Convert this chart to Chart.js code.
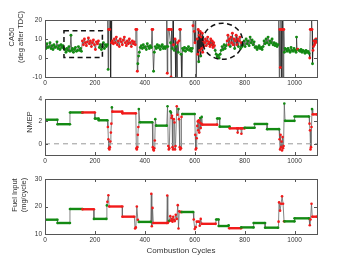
<!DOCTYPE html>
<html>
<head>
<meta charset="utf-8">
<script src="https://cdn.jsdelivr.net/npm/chart.js@4.4.0/dist/chart.umd.min.js"></script>
<style>
  body { margin: 0; background: #fff; width: 350px; height: 263px; position: relative; overflow: hidden; }
  canvas { position: absolute; left: 0; }
</style>
</head>
<body>
<canvas id="chartCA" width="350" height="90" style="top:0"></canvas>
<canvas id="chartNmep" width="350" height="85" style="top:85px"></canvas>
<canvas id="chartFuel" width="350" height="98" style="top:165px"></canvas>
<script>
// tick labels
const xTicks = [0, 200, 400, 600, 800, 1000];
const xMax = 1090;
const caTicks = [-10, 0, 10, 20];
const nmepTicks = [0, 2, 4];
const fuelTicks = [10, 20, 30];

// [cycle, value, state] where state 'g' = green, 'r' = red
const caPoints = [
  [0,6.5,'g'],[4,5,'g'],[8,7.5,'g'],[12,5.5,'g'],[16,6,'g'],[20,8,'g'],[24,5,'g'],[28,6.5,'g'],[32,4.5,'g'],[36,7,'g'],
  [40,5.5,'g'],[44,6,'g'],[48,8.5,'g'],[52,5,'g'],[56,6.5,'g'],[60,4.5,'g'],[64,7,'g'],[68,5.5,'g'],[72,6.5,'g'],[76,5,'g'],
  [80,4.5,'g'],[84,3,'g'],[88,5,'g'],[92,4,'g'],[96,6,'g'],[100,3.5,'g'],[104,12,'g'],[107,4,'g'],[110,5,'g'],[114,3,'g'],
  [118,4.5,'g'],[122,5.5,'g'],[126,3.5,'g'],[130,4,'g'],[134,6,'g'],[138,4,'g'],[142,5,'g'],[146,3.5,'g'],
  [150,9,'r'],[154,7,'r'],[158,10,'r'],[162,8,'r'],[166,6.5,'r'],[170,8.5,'r'],[174,10.5,'r'],[178,7.5,'r'],[182,9,'r'],
  [186,6,'r'],[190,8,'r'],[194,9.5,'r'],[198,7,'r'],[202,4.5,'r'],[206,8.5,'r'],[210,7.5,'r'],[214,9,'r'],
  [218,5.5,'g'],[222,7,'g'],[226,4.5,'g'],[230,6,'g'],[234,8,'g'],[238,5,'g'],[242,7,'g'],[246,6,'g'],
  [250,7,'g'],[252,25,'g'],[253,-6,'g'],[255,15,'r'],[259,15,'r'],[261,26,'r'],[263,-14,'r'],[265,24,'r'],[267,8,'r'],
  [270,9,'r'],[274,7.5,'r'],[278,10,'r'],[282,8,'r'],[286,11,'r'],[290,7,'r'],[294,9,'r'],[298,6,'r'],[302,10,'r'],
  [306,8.5,'r'],[310,7,'r'],[314,9.5,'r'],[318,11,'r'],[322,8,'r'],[326,6.5,'r'],[330,9,'r'],[334,7.5,'r'],[338,10,'r'],
  [342,8,'r'],[346,6,'r'],[350,9,'r'],[354,7.5,'r'],[358,8.5,'r'],[362,7,'r'],
  [364,15,'r'],[368,15,'r'],[370,-7,'r'],[372,-3,'g'],[375,1,'g'],[378,3,'g'],[382,5.5,'g'],
  [386,6.5,'g'],[390,5,'g'],[394,7,'g'],[398,5.5,'g'],[402,6,'g'],[406,4.5,'g'],[410,7.5,'g'],[414,6,'g'],[418,5,'g'],
  [422,6.5,'g'],[426,5.5,'g'],[429,15,'r'],[432,15,'r'],[435,-7,'g'],[438,3,'g'],
  [442,6,'g'],[446,5,'g'],[450,7,'g'],[454,5.5,'g'],[458,6.5,'g'],[462,4.5,'g'],[466,6,'g'],[470,7,'g'],[474,5,'g'],
  [478,6,'g'],[482,5,'g'],
  [486,6,'g'],[488,25,'g'],[490,-8,'r'],[492,6,'g'],[494,15,'r'],[497,15,'r'],[500,15,'r'],[503,8,'g'],[505,-10,'r'],
  [507,15,'r'],[510,5,'g'],[513,25,'g'],[515,7,'r'],[518,4,'g'],[521,10,'r'],[524,-12,'r'],[526,6,'g'],[529,-12,'g'],
  [531,8,'r'],[534,3,'g'],[537,9,'r'],[540,15,'r'],[543,15,'r'],[545,2,'g'],[547,-12,'r'],[549,-12,'r'],[551,5,'g'],
  [555,4,'g'],[559,5.5,'g'],[563,3.5,'g'],[567,5,'g'],[571,4.5,'g'],[575,6,'g'],[579,4,'g'],[583,5,'g'],[587,3.5,'g'],[590,5,'g'],
  [593,17,'r'],[596,25,'r'],[598,14,'r'],[601,8,'r'],[604,25,'g'],[606,-12,'g'],[608,-12,'g'],[610,10,'r'],[612,2,'r'],
  [614,15,'r'],[616,-2,'g'],[618,12,'r'],[620,4,'r'],[622,14,'r'],[624,1,'g'],[626,11,'r'],[628,5,'r'],[630,13,'r'],
  [632,3,'r'],[634,9,'r'],[636,6,'r'],
  [640,8,'r'],[643,10,'r'],[646,6.5,'r'],[649,9,'r'],[652,11,'r'],[655,7.5,'r'],[658,8.5,'r'],[661,6,'r'],[664,10,'r'],
  [667,7,'r'],[670,9,'r'],[673,5.5,'r'],[676,8,'r'],[679,6.5,'r'],
  [682,4,'g'],[686,2,'g'],[690,0.5,'g'],[694,1.5,'g'],[698,0,'g'],[702,2,'g'],[706,4,'g'],[710,6,'g'],[714,4.5,'g'],
  [718,7,'g'],[722,5,'g'],[726,6.5,'g'],
  [730,9,'r'],[733,12,'r'],[736,7,'r'],[739,10,'r'],[742,6,'g'],[745,11,'r'],[748,8,'r'],[751,13,'r'],[754,7,'r'],
  [757,10,'r'],[760,5,'g'],[763,9,'r'],[766,12,'r'],[769,7,'r'],[772,10,'r'],[775,6,'g'],[778,9,'r'],[781,11,'r'],
  [784,5,'g'],[787,8,'r'],[790,6,'g'],
  [794,7,'g'],[798,9,'g'],[802,6,'g'],[806,10,'g'],[810,7.5,'g'],[814,9,'g'],[818,6.5,'g'],[822,11,'g'],[826,8,'g'],
  [830,9.5,'g'],[834,7,'g'],[838,8.5,'g'],[842,5.5,'g'],[846,6,'g'],[850,4.5,'g'],[854,5.5,'g'],[858,6.5,'g'],[862,5,'g'],
  [866,5.5,'g'],[870,4.5,'g'],[874,6,'g'],[878,9,'g'],[882,7.5,'g'],[886,10,'g'],[890,8,'g'],[894,11,'g'],[898,7,'g'],
  [902,9,'g'],[906,8,'g'],[910,10,'g'],[914,7,'g'],[918,8,'g'],[922,6.5,'g'],[926,7.5,'g'],[930,6,'g'],[934,7,'g'],
  [937,25,'g'],[939,-12,'g'],[941,15,'r'],[943,-5,'r'],[945,25,'g'],[947,15,'r'],[949,-12,'g'],[951,25,'r'],[953,15,'r'],
  [955,-12,'r'],[957,15,'r'],[959,3,'g'],[962,5,'g'],
  [966,4.5,'g'],[970,3.5,'g'],[974,5,'g'],[978,4,'g'],[982,3,'g'],[986,5.5,'g'],[990,4,'g'],[994,3.5,'g'],[998,5,'g'],
  [1002,4,'g'],[1006,3,'g'],[1008,11,'g'],[1010,4.5,'g'],[1013,4.6,'r'],[1018,4,'g'],[1022,3.5,'g'],[1026,4.5,'g'],
  [1030,3,'g'],[1034,4,'g'],[1038,3.5,'g'],[1042,2.5,'g'],[1046,4,'g'],[1050,3,'g'],[1054,3.5,'g'],[1058,2.5,'g'],
  [1061,0,'r'],[1063,15,'r'],[1066,15,'r'],[1068,25,'g'],[1070,15,'r'],[1072,-3,'g'],[1074,4,'r'],
  [1076,6,'r'],[1078,9,'r'],[1080,7,'r'],[1082,9.5,'r'],[1084,8,'r'],[1086,10,'r'],[1088,8.5,'r'],[1090,9,'r']
];

const nmepPoints = [
  [0,2.15,'g'],[50,2.15,'g'],[50,1.75,'g'],[100,1.75,'g'],[100,2.8,'g'],[150,2.8,'g'],[150,2.8,'r'],[200,2.8,'r'],
  [200,2.25,'g'],[215,2.25,'g'],[215,2.1,'g'],[250,2.1,'g'],
  [252,1.5,'r'],[254,0.4,'r'],[256,-0.4,'r'],[258,-0.5,'r'],[260,-0.3,'r'],[262,0.2,'r'],[264,1.0,'r'],[266,1.8,'r'],
  [268,3.25,'g'],[270,2.87,'r'],[310,2.87,'r'],[310,2.72,'r'],[364,2.72,'r'],
  [366,-0.4,'r'],[368,-0.5,'r'],[370,-0.3,'r'],[372,0.8,'r'],[374,1.5,'r'],[376,3.1,'g'],[380,1.92,'g'],[430,1.92,'g'],
  [432,-0.3,'r'],[434,-0.5,'r'],[436,-0.6,'r'],[438,-0.4,'r'],[440,0.3,'r'],[442,2.2,'g'],[445,1.62,'g'],[488,1.62,'g'],
  [491,3.35,'g'],[494,-0.2,'r'],[496,-0.5,'r'],[498,-0.4,'r'],[502,2.9,'g'],[505,2.8,'g'],[507,2.3,'r'],[509,2.5,'r'],
  [511,-0.3,'r'],[513,-0.5,'r'],[516,2.2,'r'],[519,1.9,'r'],[521,-0.5,'r'],[523,-0.2,'r'],[528,3.35,'r'],[531,2.6,'r'],
  [535,3.1,'g'],[537,2.2,'r'],[540,-0.3,'r'],[542,-0.5,'r'],[545,-0.4,'r'],[547,2.4,'r'],[550,2.66,'g'],[600,2.66,'g'],
  [602,0.8,'r'],[604,-0.5,'r'],[606,-0.4,'r'],[608,0.5,'r'],[610,1.6,'r'],[612,2.0,'r'],[614,1.2,'r'],[616,2.1,'r'],
  [618,1.0,'r'],[620,1.9,'r'],[622,2.3,'g'],[624,1.4,'r'],[626,1.8,'r'],[628,2.4,'g'],[630,1.71,'r'],[690,1.71,'r'],
  [690,2.26,'g'],[700,2.26,'g'],[700,1.53,'g'],[740,1.53,'g'],[740,1.38,'r'],[770,1.38,'r'],[772,1.0,'r'],[774,1.38,'r'],
  [785,1.38,'r'],[787,0.9,'r'],[789,1.38,'r'],[800,1.38,'r'],[800,1.43,'g'],[840,1.43,'g'],[840,1.77,'g'],[890,1.77,'g'],
  [890,1.31,'g'],[938,1.31,'g'],
  [940,0.4,'r'],[942,-0.5,'r'],[944,0.8,'r'],[946,-0.3,'r'],[948,0.2,'r'],[950,-0.6,'r'],[952,0.6,'r'],[954,-0.4,'r'],
  [956,-0.2,'r'],[959,3.6,'g'],[962,2.05,'g'],[1000,2.05,'g'],[1000,2.44,'g'],[1058,2.44,'g'],
  [1060,1.8,'r'],[1062,1.2,'r'],[1064,-0.5,'r'],[1066,-0.3,'r'],[1068,1.5,'r'],[1070,3.1,'g'],[1073,2.63,'r'],[1090,2.63,'r']
];

const fuelPoints = [
  [0,15.2,'g'],[50,15.2,'g'],[50,14.0,'g'],[100,14.0,'g'],[100,19.1,'g'],[150,19.1,'g'],[150,19.0,'r'],[196,19.0,'r'],
  [196,15.5,'g'],[246,15.5,'g'],[248,20.4,'g'],[250,21.7,'r'],[254,24.1,'r'],[257,20.0,'r'],[310,20.0,'r'],
  [310,16.3,'r'],[358,16.3,'r'],[361,12.0,'r'],[364,12.4,'r'],[368,20.0,'r'],[372,15.2,'r'],[376,14.4,'g'],[424,14.4,'g'],
  [426,24.6,'r'],[428,12.8,'r'],[431,19.5,'r'],[434,14.0,'r'],[488,14.0,'r'],[490,24.0,'r'],[492,14.0,'r'],
  [495,14.5,'r'],[498,14.8,'g'],[502,16.5,'r'],[505,14.8,'r'],[508,15.5,'r'],[511,14.5,'r'],[514,16.3,'r'],[517,15.2,'r'],
  [520,14.7,'r'],[524,17.0,'r'],[528,15.5,'r'],[532,20.5,'r'],[535,12.0,'r'],[538,18.3,'r'],[542,18.0,'r'],[548,18.0,'r'],
  [548,18.0,'g'],[594,18.0,'g'],[596,15.3,'r'],[600,11.8,'r'],[604,12.5,'r'],[608,14.5,'r'],[618,14.5,'r'],[620,13.0,'r'],
  [624,15.5,'r'],[628,13.7,'r'],[684,13.7,'r'],[686,15.3,'g'],[696,15.3,'g'],[696,12.9,'g'],[734,12.9,'g'],[736,13.2,'g'],
  [738,12.1,'r'],[786,12.1,'r'],[786,12.4,'g'],[836,12.4,'g'],[836,14.0,'g'],[882,14.0,'g'],[882,12.3,'g'],[934,12.3,'g'],
  [936,14.5,'r'],[938,21.5,'r'],[942,18.5,'r'],[946,21.0,'r'],[950,23.7,'r'],[954,21.0,'r'],[958,14.6,'r'],[960,14.6,'g'],
  [1000,14.6,'g'],[1000,15.7,'g'],[1058,15.7,'g'],[1061,13.2,'r'],[1064,15.3,'r'],[1068,21.0,'r'],[1071,16.3,'r'],[1090,16.3,'r']
];

// dashed highlight regions on the CA50 panel (data units)
const caBox = [76, 230, 0.3, 14.4];          // x0, x1, y0, y1
const caEllipse = [712, 8.8, 80, 9.5];       // cx, cy, rx, ry

const GREEN = '#138a13';
const RED = '#f21a1a';
const FONT = '"Liberation Sans", Arial, sans-serif';
const colOf = c => c === 'r' ? RED : GREEN;

// box frame, inward ticks, free text labels, annotations
function framePlugin(labels, extra) {
  return {
    id: 'frame',
    afterDatasetsDraw(chart) {
      if (extra) extra(chart);
    },
    afterDraw(chart) {
      const ctx = chart.ctx;
      const { left, top, right, bottom } = chart.chartArea;
      const xs = chart.scales.x, ys = chart.scales.y;
      ctx.save();
      ctx.strokeStyle = '#555';
      ctx.lineWidth = 1;
      ctx.strokeRect(Math.round(left) + 0.5, Math.round(top) + 0.5, Math.round(right - left), Math.round(bottom - top));
      ctx.beginPath();
      xs.ticks.forEach(t => {
        const px = Math.round(xs.getPixelForValue(t.value)) + 0.5;
        ctx.moveTo(px, bottom); ctx.lineTo(px, bottom - 3);
        ctx.moveTo(px, top); ctx.lineTo(px, top + 3);
      });
      ys.ticks.forEach(t => {
        const py = Math.round(ys.getPixelForValue(t.value)) + 0.5;
        ctx.moveTo(left, py); ctx.lineTo(left + 3, py);
        ctx.moveTo(right, py); ctx.lineTo(right - 3, py);
      });
      ctx.stroke();
      ctx.fillStyle = '#333';
      labels.forEach(l => {
        ctx.save();
        ctx.translate(l.x, l.y);
        if (l.rot) ctx.rotate(-Math.PI / 2);
        ctx.font = l.size + 'px ' + FONT;
        ctx.textAlign = 'center';
        ctx.textBaseline = 'middle';
        ctx.fillText(l.text, 0, 0);
        ctx.restore();
      });
      ctx.restore();
    }
  };
}

function stepDataset(pts) {
  const flat = (a, b) => a[1] === b[1] && a[2] === b[2];
  return {
    data: pts.map(p => ({ x: p[0], y: p[1] })),
    borderColor: '#777',
    borderWidth: 0.8,
    tension: 0,
    segment: {
      borderColor: s => flat(pts[s.p0DataIndex], pts[s.p1DataIndex]) ? colOf(pts[s.p0DataIndex][2]) : '#666',
      borderWidth: s => flat(pts[s.p0DataIndex], pts[s.p1DataIndex]) ? 2.4 : 0.8
    },
    pointRadius: 1.3,
    pointBorderWidth: 0,
    pointBackgroundColor: c => colOf(pts[c.dataIndex][2])
  };
}

function makeOptions(yTicks, yMin, yMax, padTop, xHeight) {
  return {
    responsive: false,
    animation: false,
    devicePixelRatio: 1,
    layout: { padding: { top: padTop, right: 33, left: 0, bottom: 0 } },
    plugins: { legend: { display: false }, tooltip: { enabled: false } },
    scales: {
      x: {
        type: 'linear', min: 0, max: xMax,
        grid: { display: false, drawTicks: false },
        border: { display: false },
        ticks: { font: { family: FONT, size: 6.5 }, color: '#333', padding: 2, maxRotation: 0, callback: v => String(v) },
        afterBuildTicks: s => { s.ticks = xTicks.map(v => ({ value: v })); },
        afterFit: s => { s.height = xHeight; }
      },
      y: {
        min: yMin, max: yMax,
        grid: { display: false, drawTicks: false },
        border: { display: false },
        ticks: { font: { family: FONT, size: 6.5 }, color: '#333', padding: 3, callback: v => String(v) },
        afterBuildTicks: s => { s.ticks = yTicks.map(v => ({ value: v })); },
        afterFit: s => { s.width = 45; }
      }
    }
  };
}

// CA50 panel
new Chart(document.getElementById('chartCA').getContext('2d'), {
  type: 'line',
  data: {
    datasets: [{
      data: caPoints.map(p => ({ x: p[0], y: p[1] })),
      borderColor: 'rgba(30,30,30,0.8)',
      borderWidth: 0.8,
      tension: 0,
      pointRadius: 1.45,
      pointBorderWidth: 0,
      pointBackgroundColor: c => colOf(caPoints[c.dataIndex][2])
    }]
  },
  options: makeOptions(caTicks, -10, 20, 20, 13),
  plugins: [framePlugin([
    { text: 'CA50', x: 12, y: 37, size: 7.5, rot: true },
    { text: '(deg after TDC)', x: 21, y: 37, size: 7.5, rot: true }
  ], chart => {
    const ctx = chart.ctx, xs = chart.scales.x, ys = chart.scales.y;
    ctx.save();
    ctx.strokeStyle = '#111';
    ctx.lineWidth = 1.5;
    ctx.setLineDash([5, 3.5]);
    const bx0 = xs.getPixelForValue(caBox[0]), bx1 = xs.getPixelForValue(caBox[1]);
    const by0 = ys.getPixelForValue(caBox[2]), by1 = ys.getPixelForValue(caBox[3]);
    ctx.strokeRect(bx0, by1, bx1 - bx0, by0 - by1);
    const cx = xs.getPixelForValue(caEllipse[0]), cy = ys.getPixelForValue(caEllipse[1]);
    const rx = xs.getPixelForValue(caEllipse[0] + caEllipse[2]) - cx;
    const ry = cy - ys.getPixelForValue(caEllipse[1] + caEllipse[3]);
    ctx.beginPath();
    ctx.ellipse(cx, cy, rx, ry, 0, 0, Math.PI * 2);
    ctx.stroke();
    ctx.restore();
  })]
});

// NMEP panel
new Chart(document.getElementById('chartNmep').getContext('2d'), {
  type: 'line',
  data: {
    datasets: [
      {
        data: [{ x: 0, y: 0 }, { x: xMax, y: 0 }],
        borderColor: '#999', borderWidth: 1, borderDash: [5, 4], pointRadius: 0
      },
      stepDataset(nmepPoints)
    ]
  },
  options: makeOptions(nmepTicks, -1, 4, 14, 15),
  plugins: [framePlugin([
    { text: 'NMEP', x: 30, y: 37, size: 7.5, rot: true }
  ])]
});

// Fuel input panel
new Chart(document.getElementById('chartFuel').getContext('2d'), {
  type: 'line',
  data: { datasets: [stepDataset(fuelPoints)] },
  options: makeOptions(fuelTicks, 10, 30, 14, 29),
  plugins: [framePlugin([
    { text: 'Fuel Input', x: 15, y: 30, size: 7.5, rot: true },
    { text: '(mg/cycle)', x: 24, y: 30, size: 7.5, rot: true },
    { text: 'Combustion Cycles', x: 181, y: 86, size: 8 }
  ])]
});
</script>
</body>
</html>
